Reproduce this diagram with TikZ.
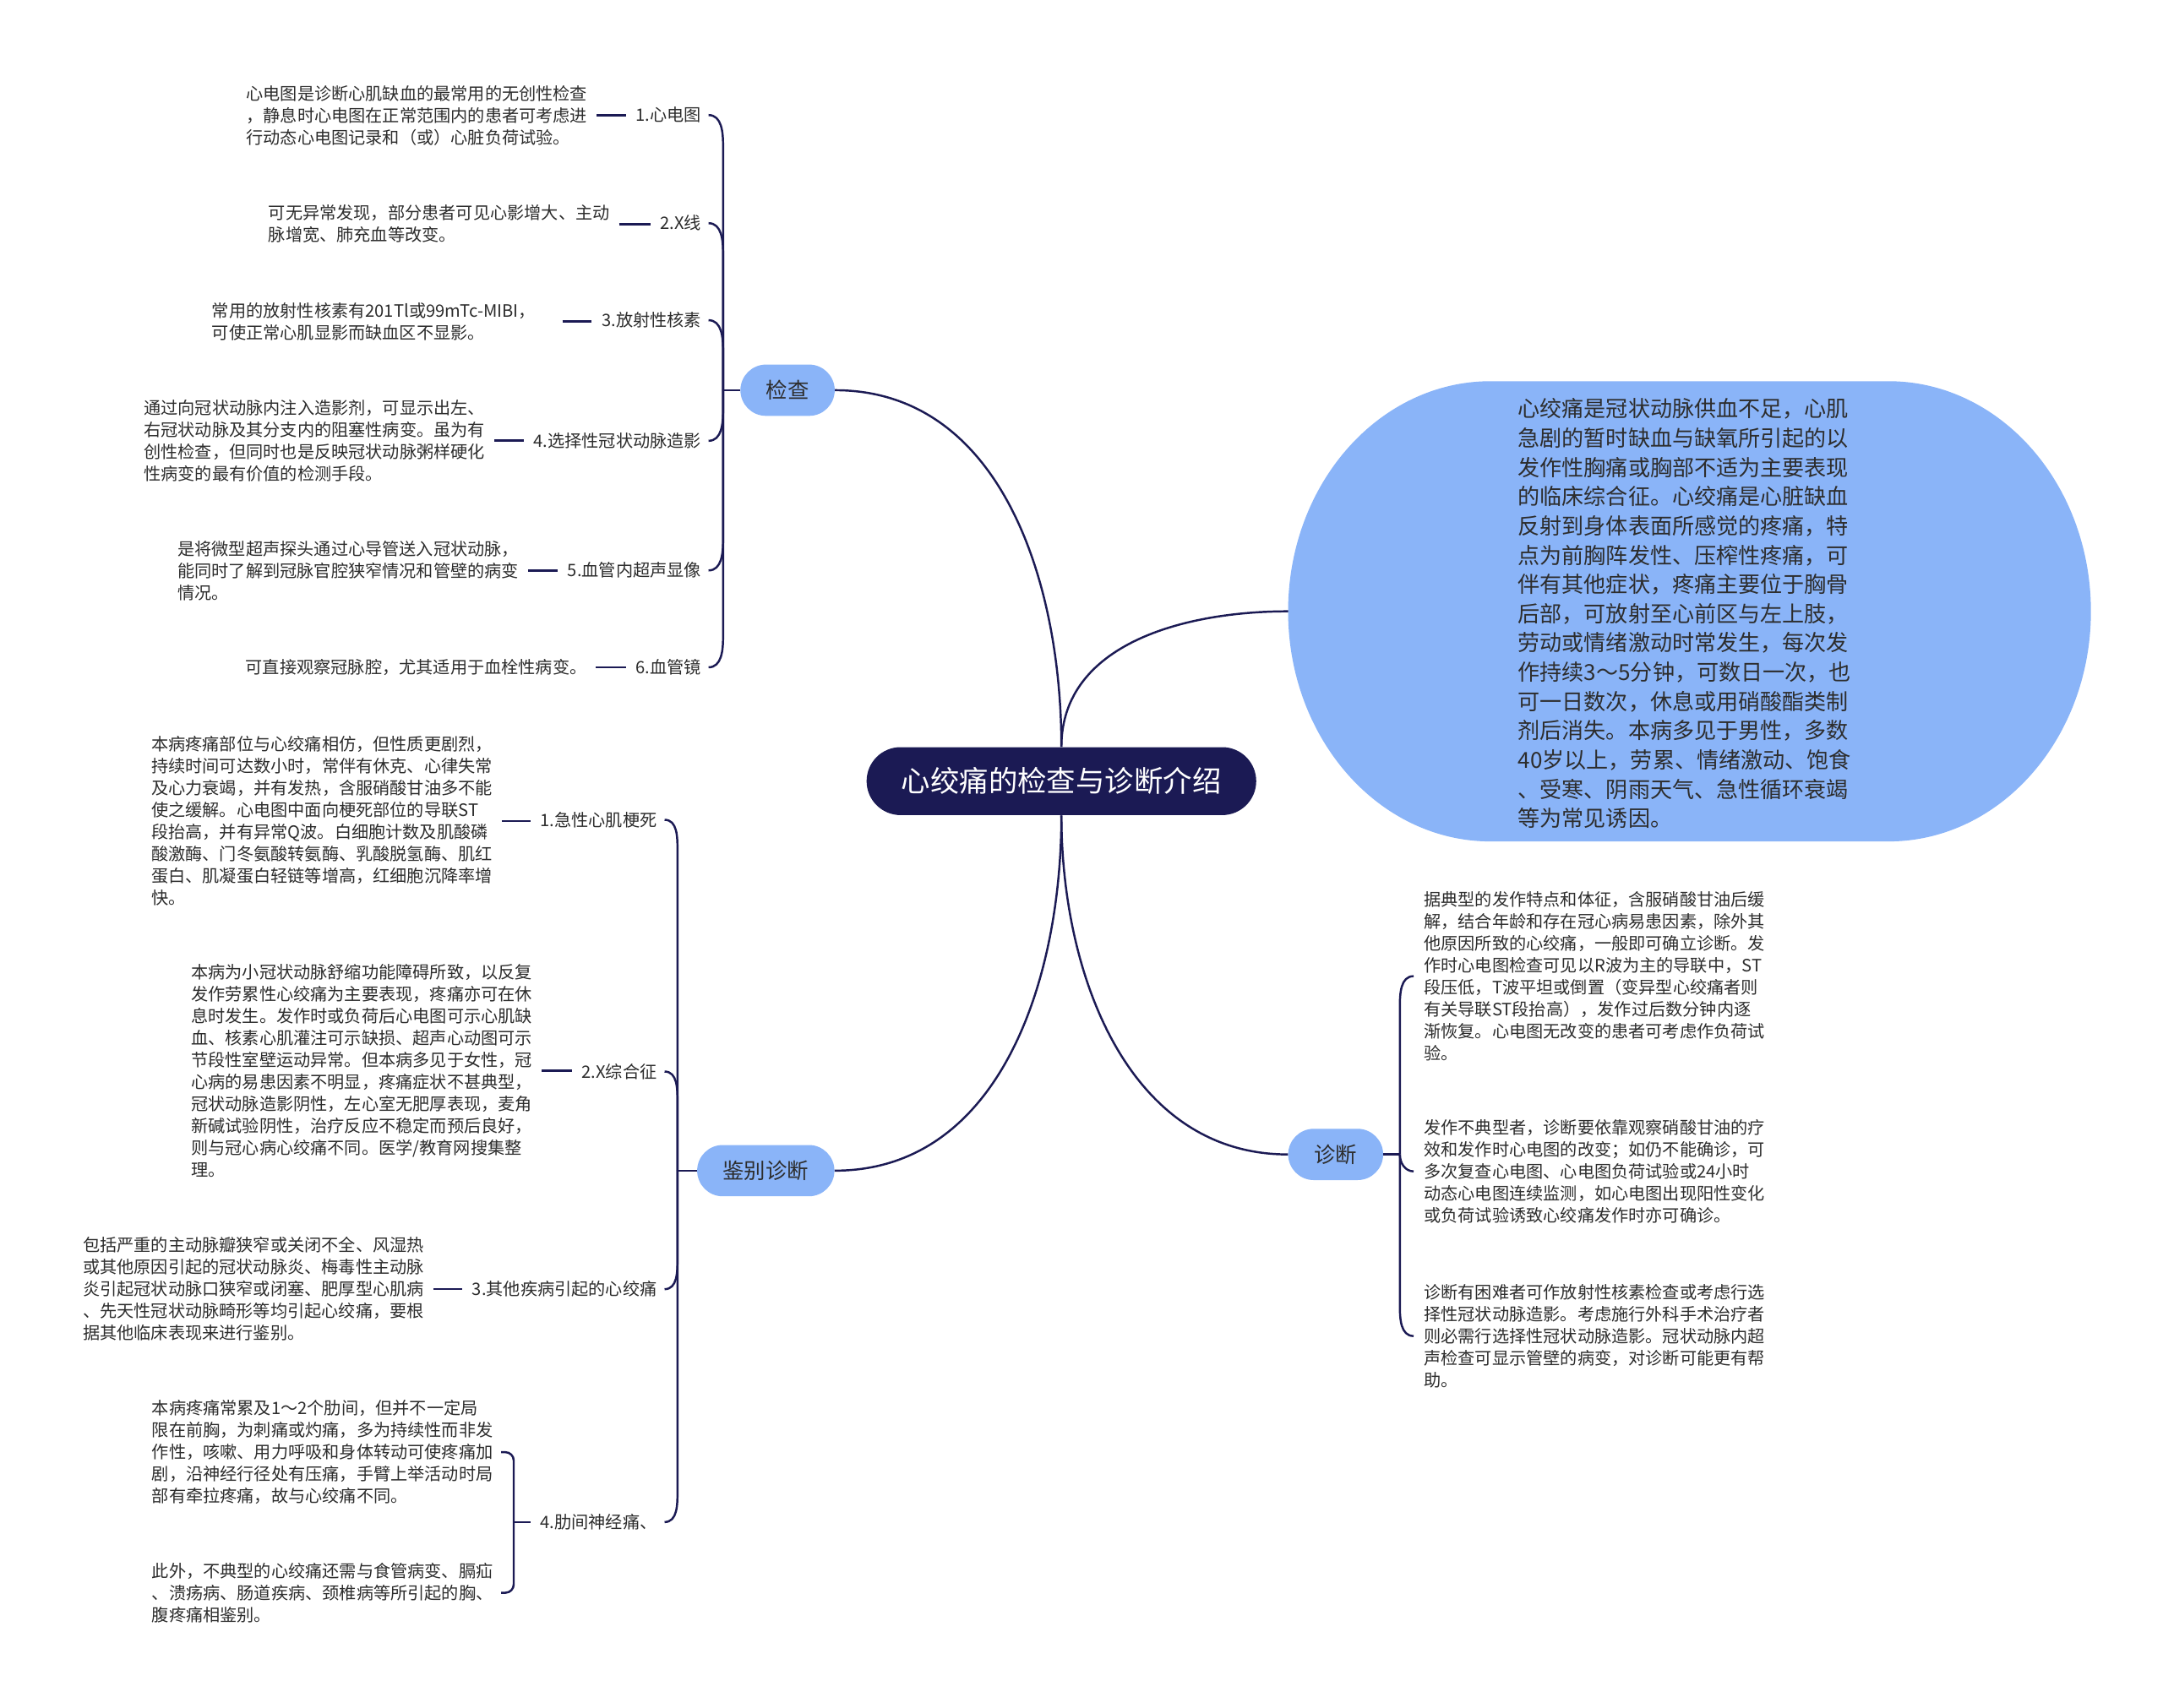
\documentclass[tikz,border=0pt]{standalone}
\usepackage{fontspec}
\setmainfont{Noto Sans CJK SC}
\usetikzlibrary{calc}
\definecolor{navy}{RGB}{27,26,84}
\definecolor{lb}{RGB}{138,180,248}
\definecolor{txt}{RGB}{45,45,45}
\begin{document}
\begin{tikzpicture}[x=1pt,y=1pt,
  conn/.style={draw=navy,line width=1.5pt},
  desc/.style={inner sep=0pt,align=left,text width=246.5pt,font=\fontsize{12.3}{15.8}\selectfont,text=txt,anchor=west},
  lbl/.style={inner sep=0pt,font=\fontsize{12.3}{15.8}\selectfont,text=txt,anchor=east},
  branch/.style={fill=lb,rounded corners=18.5pt,minimum height=37pt,inner sep=0pt,font=\fontsize{15.5}{18}\selectfont,text=txt}]
\useasboundingbox (0,0) rectangle (1560,-1231.6);
\fill[white] (0,0) rectangle (1560,-1231.6);

% root and main branches
\node[fill=navy,text=white,rounded corners=24.5pt,minimum width=281pt,minimum height=49pt,inner sep=0pt,font=\fontsize{21}{24}\selectfont] (root) at (765.5,-563.5) {心绞痛的检查与诊断介绍};
\node[branch,minimum width=68pt] (jc) at (568,-281.5) {检查};
\node[branch,minimum width=99pt] (jb) at (552.3,-844.5) {鉴别诊断};
\node[branch,minimum width=68.5pt] (zd) at (963.3,-832.8) {诊断};

% intro shape
\fill[lb] (1362,-275) arc[start angle=90,end angle=-90,x radius=146,y radius=166] -- (1075,-607) arc[start angle=270,end angle=90,x radius=146,y radius=166] -- cycle;
\coordinate (introW) at (929,-441);
\node[inner sep=0pt,align=left,text width=240pt,anchor=west,font=\fontsize{15.9}{21.1}\selectfont,text=txt] (intro) at (1094.6,-442.6) {心绞痛是冠状动脉供血不足，心肌\\急剧的暂时缺血与缺氧所引起的以\\发作性胸痛或胸部不适为主要表现\\的临床综合征。心绞痛是心脏缺血\\反射到身体表面所感觉的疼痛，特\\点为前胸阵发性、压榨性疼痛，可\\伴有其他症状，疼痛主要位于胸骨\\后部，可放射至心前区与左上肢，\\劳动或情绪激动时常发生，每次发\\作持续3～5分钟，可数日一次，也\\可一日数次，休息或用硝酸酯类制\\剂后消失。本病多见于男性，多数\\40岁以上，劳累、情绪激动、饱食\\、受寒、阴雨天气、急性循环衰竭\\等为常见诱因。};

\draw[conn] (root.north) to[out=90,in=0] (jc.east);
\draw[conn] (root.north) to[out=90,in=180] (introW);
\draw[conn] (root.south) to[out=-90,in=0] (jb.east);
\draw[conn] (root.south) to[out=-90,in=180] (zd.west);

% ===== 检查 =====
\coordinate (J1) at (521.5,-281.5);
\draw[conn] (jc.west) -- (J1);
\node[lbl] (c1) at (506,-83) {1.心电图};
\node[lbl] (c2) at (506,-161) {2.X线};
\node[lbl] (c3) at (506,-231) {3.放射性核素};
\node[lbl] (c4) at (506,-318) {4.选择性冠状动脉造影};
\node[lbl] (c5) at (506,-411.5) {5.血管内超声显像};
\node[lbl] (c6) at (506,-481.4) {6.血管镜};
\node[desc] (d1) at (177.4,-83.3) {心电图是诊断心肌缺血的最常用的无创性检查\\，静息时心电图在正常范围内的患者可考虑进\\行动态心电图记录和（或）心脏负荷试验。};
\node[desc] (d2) at (193.5,-161.7) {可无异常发现，部分患者可见心影增大、主动\\脉增宽、肺充血等改变。};
\node[desc] (d3) at (152.7,-231.8) {常用的放射性核素有201Tl或99mTc-MIBI，\\可使正常心肌显影而缺血区不显影。};
\node[desc] (d4) at (103.6,-317.9) {通过向冠状动脉内注入造影剂，可显示出左、\\右冠状动脉及其分支内的阻塞性病变。虽为有\\创性检查，但同时也是反映冠状动脉粥样硬化\\性病变的最有价值的检测手段。};
\node[desc] (d5) at (128,-411.6) {是将微型超声探头通过心导管送入冠状动脉，\\能同时了解到冠脉官腔狭窄情况和管壁的病变\\情况。};
\node[desc] (d6) at (177,-481.4) {可直接观察冠脉腔，尤其适用于血栓性病变。};
\foreach \d/\c in {d1/c1,d2/c2,d3/c3,d4/c4,d5/c5,d6/c6}
  \draw[conn,shorten <=6pt,shorten >=7pt] (\d.east) -- (\d.east -| \c.west);
\foreach \c in {c1,c2,c3}
  \draw[conn] (J1) -- ($(\c.east)+(15.5,-22)$) to[out=90,in=0] ([xshift=5pt]\c.east);
\foreach \c in {c4,c5,c6}
  \draw[conn] (J1) -- ($(\c.east)+(15.5,22)$) to[out=-90,in=0] ([xshift=5pt]\c.east);

% ===== 鉴别诊断 =====
\coordinate (J2) at (488.6,-844.5);
\draw[conn] (jb.west) -- (J2);
\node[lbl] (k1) at (474,-591.4) {1.急性心肌梗死};
\node[lbl] (k2) at (474,-773) {2.X综合征};
\node[lbl] (k3) at (474,-930) {3.其他疾病引起的心绞痛};
\node[lbl] (k4) at (474,-1098) {4.肋间神经痛、};
\node[desc] (e1) at (109,-592.2) {本病疼痛部位与心绞痛相仿，但性质更剧烈，\\持续时间可达数小时，常伴有休克、心律失常\\及心力衰竭，并有发热，含服硝酸甘油多不能\\使之缓解。心电图中面向梗死部位的导联ST\\段抬高，并有异常Q波。白细胞计数及肌酸磷\\酸激酶、门冬氨酸转氨酶、乳酸脱氢酶、肌红\\蛋白、肌凝蛋白轻链等增高，红细胞沉降率增\\快。};
\node[desc] (e2) at (137.7,-772.5) {本病为小冠状动脉舒缩功能障碍所致，以反复\\发作劳累性心绞痛为主要表现，疼痛亦可在休\\息时发生。发作时或负荷后心电图可示心肌缺\\血、核素心肌灌注可示缺损、超声心动图可示\\节段性室壁运动异常。但本病多见于女性，冠\\心病的易患因素不明显，疼痛症状不甚典型，\\冠状动脉造影阴性，左心室无肥厚表现，麦角\\新碱试验阴性，治疗反应不稳定而预后良好，\\则与冠心病心绞痛不同。医学/教育网搜集整\\理。};
\node[desc] (e3) at (59.6,-929.8) {包括严重的主动脉瓣狭窄或关闭不全、风湿热\\或其他原因引起的冠状动脉炎、梅毒性主动脉\\炎引起冠状动脉口狭窄或闭塞、肥厚型心肌病\\、先天性冠状动脉畸形等均引起心绞痛，要根\\据其他临床表现来进行鉴别。};
\node[desc] (e4a) at (109.4,-1047.6) {本病疼痛常累及1～2个肋间，但并不一定局\\限在前胸，为刺痛或灼痛，多为持续性而非发\\作性，咳嗽、用力呼吸和身体转动可使疼痛加\\剧，沿神经行径处有压痛，手臂上举活动时局\\部有牵拉疼痛，故与心绞痛不同。};
\node[desc] (e4b) at (109.4,-1149) {此外，不典型的心绞痛还需与食管病变、膈疝\\、溃疡病、肠道疾病、颈椎病等所引起的胸、\\腹疼痛相鉴别。};
\foreach \d/\c in {e1/k1,e2/k2,e3/k3}
  \draw[conn,shorten <=6pt,shorten >=7pt] (\d.east) -- (\d.east -| \c.west);
\foreach \c in {k1,k2}
  \draw[conn] (J2) -- ($(\c.east)+(14.6,-22)$) to[out=90,in=0] ([xshift=5.3pt]\c.east);
\foreach \c in {k3,k4}
  \draw[conn] (J2) -- ($(\c.east)+(14.6,22)$) to[out=-90,in=0] ([xshift=5.3pt]\c.east);
\coordinate (J4) at (370.5,-1098);
\draw[conn,rounded corners=6pt] ([xshift=5.2pt]e4a.east) -| (J4) |- ([xshift=5.2pt]e4b.east);
\draw[conn,shorten >=7pt] (J4) -- (J4 -| k4.west);

% ===== 诊断 =====
\coordinate (J3) at (1009.6,-832.8);
\draw[conn] (zd.east) -- (J3);
\node[desc] (z1) at (1026.8,-704.2) {据典型的发作特点和体征，含服硝酸甘油后缓\\解，结合年龄和存在冠心病易患因素，除外其\\他原因所致的心绞痛，一般即可确立诊断。发\\作时心电图检查可见以R波为主的导联中，ST\\段压低，T波平坦或倒置（变异型心绞痛者则\\有关导联ST段抬高），发作过后数分钟内逐\\渐恢复。心电图无改变的患者可考虑作负荷试\\验。};
\node[desc] (z2) at (1026.8,-845) {发作不典型者，诊断要依靠观察硝酸甘油的疗\\效和发作时心电图的改变；如仍不能确诊，可\\多次复查心电图、心电图负荷试验或24小时\\动态心电图连续监测，如心电图出现阳性变化\\或负荷试验诱致心绞痛发作时亦可确诊。};
\node[desc] (z3) at (1026.8,-963.8) {诊断有困难者可作放射性核素检查或考虑行选\\择性冠状动脉造影。考虑施行外科手术治疗者\\则必需行选择性冠状动脉造影。冠状动脉内超\\声检查可显示管壁的病变，对诊断可能更有帮\\助。};
\draw[conn] (J3) -- ($(z1.west)+(-17.2,-22)$) to[out=90,in=180] ([xshift=-7.3pt]z1.west);
\draw[conn] (J3) to[out=-90,in=180] ([xshift=-7.3pt]z2.west);
\draw[conn] (J3) -- ($(z3.west)+(-17.2,22)$) to[out=-90,in=180] ([xshift=-7.3pt]z3.west);
\end{tikzpicture}
\end{document}
